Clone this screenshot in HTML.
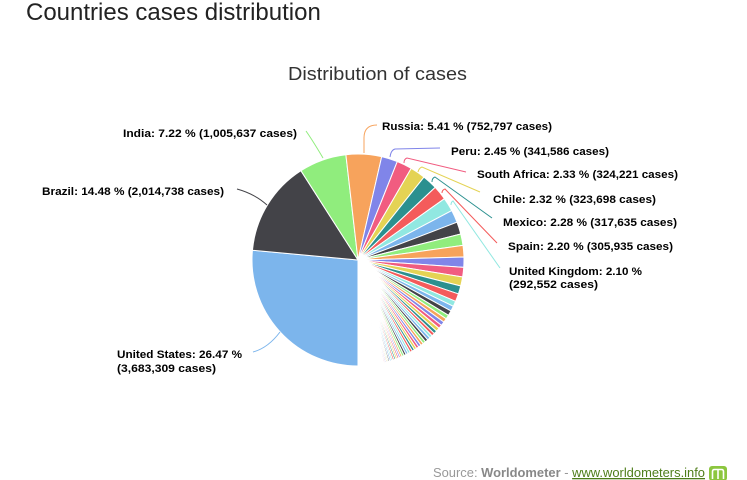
<!DOCTYPE html>
<html>
<head>
<meta charset="utf-8">
<style>
html,body{margin:0;padding:0;background:#fff;}
svg{display:block;}
text{font-family:"Liberation Sans",Arial,sans-serif;}
.lbl{font-size:11px;font-weight:bold;fill:#000;}
</style>
</head>
<body>
<svg id="s" width="747" height="480" viewBox="0 0 747 480" xmlns="http://www.w3.org/2000/svg">
<rect x="0" y="0" width="747" height="480" fill="#fff"/>
<text x="26" y="20" font-size="24" fill="#222">Countries cases distribution</text>
<text x="288" y="80" font-size="18" fill="#333" textLength="179" lengthAdjust="spacingAndGlyphs">Distribution of cases</text>
<g id="pie"></g>
<g fill="none" stroke-width="1">
<path d="M306 131 Q313 141 323 158" stroke="#90ed7d"/>
<path d="M237 189 Q255 194 267 205" stroke="#434348"/>
<path d="M253 352 Q268 348 280 332" stroke="#7cb5ec"/>
<path d="M377 125 C368 125 364 130 364 138 L364 153" stroke="#f7a35c"/>
<path d="M440 148 L395 149 Q391 150 390 157" stroke="#8085e9"/>
<path d="M466 172 L407 158 Q404 159 404 163" stroke="#f15c80"/>
<path d="M480 192 L422 167 Q419 168 418 172" stroke="#e4d354"/>
<path d="M492 218 L435 177 Q432 178 432 182" stroke="#2b908f"/>
<path d="M497 243 L445 189 Q442 190 442 193" stroke="#f45b5b"/>
<path d="M500 268 L453 201 Q451 202 451 205" stroke="#91e8e1"/>
</g>
<text class="lbl" x="123" y="137" textLength="174" lengthAdjust="spacingAndGlyphs">India: 7.22 % (1,005,637 cases)</text>
<text class="lbl" x="42" y="195" textLength="182" lengthAdjust="spacingAndGlyphs">Brazil: 14.48 % (2,014,738 cases)</text>
<text class="lbl" x="117" y="358" textLength="125" lengthAdjust="spacingAndGlyphs">United States: 26.47 %</text>
<text class="lbl" x="117" y="372" textLength="99" lengthAdjust="spacingAndGlyphs">(3,683,309 cases)</text>
<text class="lbl" x="382" y="130" textLength="170" lengthAdjust="spacingAndGlyphs">Russia: 5.41 % (752,797 cases)</text>
<text class="lbl" x="451" y="155" textLength="158" lengthAdjust="spacingAndGlyphs">Peru: 2.45 % (341,586 cases)</text>
<text class="lbl" x="477" y="178" textLength="201" lengthAdjust="spacingAndGlyphs">South Africa: 2.33 % (324,221 cases)</text>
<text class="lbl" x="493" y="203" textLength="163" lengthAdjust="spacingAndGlyphs">Chile: 2.32 % (323,698 cases)</text>
<text class="lbl" x="503" y="226" textLength="174" lengthAdjust="spacingAndGlyphs">Mexico: 2.28 % (317,635 cases)</text>
<text class="lbl" x="508" y="250" textLength="165" lengthAdjust="spacingAndGlyphs">Spain: 2.20 % (305,935 cases)</text>
<text class="lbl" x="509" y="275" textLength="133" lengthAdjust="spacingAndGlyphs">United Kingdom: 2.10 %</text>
<text class="lbl" x="509" y="288" textLength="89" lengthAdjust="spacingAndGlyphs">(292,552 cases)</text>
<text x="433" y="477" font-size="13" textLength="272" lengthAdjust="spacingAndGlyphs"><tspan fill="#999">Source: </tspan><tspan fill="#888" font-weight="bold">Worldometer</tspan><tspan fill="#999"> - </tspan><tspan fill="#4e7d1a" text-decoration="underline">www.worldometers.info</tspan></text>
<rect x="709" y="466" width="18" height="15" rx="3" fill="#8cc63f"/>
<path d="M712.5 479 V471.5 Q712.5 469.5 714.5 469.5 H721.5 Q723.5 469.5 723.5 471.5 V479 M718 470 V479" fill="none" stroke="#fff" stroke-width="1.6"/>
</svg>
<script>
(function(){
var cx=358, cy=260, R=106;
var cols=['#7cb5ec','#434348','#90ed7d','#f7a35c','#8085e9','#f15c80','#e4d354','#2b908f','#f45b5b','#91e8e1'];
var main=[3683309,2014738,1005637,752797,341586,324221,323698,317635,305935,292552];
var others=[267061,257914,243506,243238,216873,201574,193590,172377,165169,114783,108829,105477,86148,84843,83612,80094,76492,70929,65443,62872,62574,61755,61266,57668,57640,56129,52261,52218,51252,49068,47426,46630,46059,38721,35200,35084,34994,34259,34226,33005,32946,28579,25672,25628,25430,23473,20770,19439,19127,18073,17061,16545,16157,13872,13612,13173,13037];
var vals=main.concat(others);
var total=3683309/0.2647;
var s=0; for(var i=0;i<vals.length;i++) s+=vals[i];
var rem=total-s; if(rem<0) rem=0;
var tail=[], ts=0;
for(var i=0;i<150;i++){var t=Math.pow(0.9645,i); tail.push(t); ts+=t;}
for(var i=0;i<tail.length;i++) vals.push(tail[i]*rem/ts);
var sum=0; for(var i=0;i<vals.length;i++) sum+=vals[i];
var g=document.getElementById('pie');
var ns='http://www.w3.org/2000/svg';
var a=Math.PI;
function pt(t){return (cx+R*Math.sin(t)).toFixed(3)+' '+(cy-R*Math.cos(t)).toFixed(3);}
for(var i=0;i<vals.length;i++){
  var da=vals[i]/sum*2*Math.PI;
  var a2=a+da;
  var large=da>Math.PI?1:0;
  var p=document.createElementNS(ns,'path');
  p.setAttribute('d','M'+cx+' '+cy+' L'+pt(a)+' A'+R+' '+R+' 0 '+large+' 1 '+pt(a2)+' Z');
  p.setAttribute('fill',cols[i%10]);
  p.setAttribute('stroke','#ffffff');
  p.setAttribute('stroke-width','1');
  p.setAttribute('stroke-linejoin','round');
  g.appendChild(p);
  a=a2;
}
})();
</script>
</body>
</html>
